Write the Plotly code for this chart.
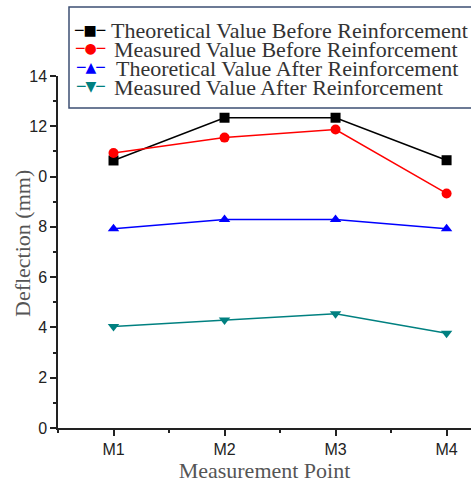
import plotly.graph_objects as go

points = ["M1", "M2", "M3", "M4"]
theo_before = [10.64, 12.34, 12.34, 10.65]
meas_before = [10.94, 11.55, 11.87, 9.33]
theo_after = [7.92, 8.29, 8.29, 7.92]
meas_after = [4.04, 4.30, 4.54, 3.77]
y_tick_vals = [0, 2, 4, 6, 8, 10, 12, 14]
y_tick_text = ["0", "2", "4", "6", "8", "0", "12", "14"]

xs = list(range(len(points)))

series = [
    ("Theoretical Value Before Reinforcement", theo_before, "#000000", "square", "\u25A0"),
    ("Measured Value Before Reinforcement", meas_before, "#ff0000", "circle", "\u25CF"),
    ("Theoretical Value After Reinforcement", theo_after, "#0000ff", "triangle-up", "\u25B2"),
    ("Measured Value After Reinforcement", meas_after, "#008080", "triangle-down", "\u25BC"),
]

fig = go.Figure()
for name, vals, color, sym, glyph in series:
    fig.add_trace(go.Scatter(
        x=xs, y=vals, name=name, mode="lines+markers",
        line=dict(color=color, width=1.5),
        marker=dict(symbol=sym, size=10, color=color),
        showlegend=False,
    ))

# legend box drawn with text (tight line spacing like the original)
L, R, T, B = 58, 471, 76, 428
def fx(px):
    return (px - L) / (R - L)
def fy(py):
    return (B - py) / (B - T)

fig.add_shape(type="rect", xref="paper", yref="paper",
              x0=fx(69), x1=fx(482), y0=fy(108), y1=fy(7),
              line=dict(color="#3d4f73", width=1.5), fillcolor="white", layer="above")

line_y = [30, 48, 67, 86]
text_x = [109, 112, 114, 112]
for (name, vals, color, sym, glyph), ly, tx in zip(series, line_y, text_x):
    fig.add_annotation(xref="paper", yref="paper", x=fx(90), y=fy(ly),
                       xanchor="center", yanchor="middle", showarrow=False,
                       text="\u2500" + glyph + "\u2500",
                       font=dict(family="DejaVu Sans", size=14, color=color))
    fig.add_annotation(xref="paper", yref="paper", x=fx(tx), y=fy(ly + 1),
                       xanchor="left", yanchor="middle", showarrow=False,
                       text=name,
                       font=dict(family="Liberation Serif, Times New Roman, serif", size=22, color="#333333"))

axis_font = dict(family="Liberation Sans, Arial, sans-serif", size=16, color="#222222")
title_font = dict(family="Liberation Serif, Times New Roman, serif", size=22, color="#555555")

# y-axis title placed close to the tick labels, as in the original
fig.add_annotation(xref="paper", yref="paper", x=fx(22), y=fy(244),
                   xanchor="center", yanchor="middle", showarrow=False,
                   textangle=-90, text="Deflection (mm)", font=title_font)

fig.update_layout(
    width=471, height=486,
    margin=dict(l=58, r=0, t=76, b=58),
    paper_bgcolor="white", plot_bgcolor="white",
    showlegend=False,
    xaxis=dict(
        range=[-0.5, 3.22], tickvals=xs, ticktext=points,
        showgrid=False, zeroline=False,
        showline=True, linecolor="#222222", linewidth=1.5,
        ticks="outside", ticklen=6, tickcolor="#222222", tickwidth=1.5,
        minor=dict(dtick=0.5, tick0=0.5, ticks="outside", ticklen=3, tickcolor="#222222", tickwidth=1.5),
        tickfont=axis_font,
        title=dict(text="Measurement Point", font=title_font, standoff=3),
    ),
    yaxis=dict(
        range=[0, 14], tickvals=y_tick_vals, ticktext=y_tick_text,
        showgrid=False, zeroline=False,
        showline=True, linecolor="#222222", linewidth=1.5,
        ticks="outside", ticklen=6, tickcolor="#222222", tickwidth=1.5,
        minor=dict(dtick=1, tick0=1, ticks="outside", ticklen=3, tickcolor="#222222", tickwidth=1.5),
        tickfont=axis_font,
    ),
)

fig.write_html("out.html", config={"displayModeBar": False},
               post_script="document.body.style.margin='0';")
